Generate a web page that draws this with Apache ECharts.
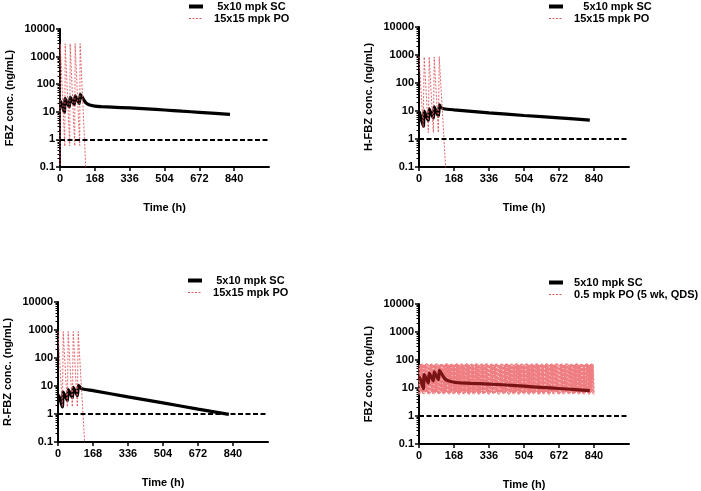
<!DOCTYPE html>
<html>
<head>
<meta charset="utf-8">
<script src="https://cdn.jsdelivr.net/npm/echarts@6/dist/echarts.min.js"></script>
<style>
html,body{margin:0;padding:0;background:#fff;}
#chart{width:701px;height:491px;}
</style>
</head>
<body>
<div id="chart"></div>
<script>
// ---------------- DATA ----------------
const xTickLabels = [0, 168, 336, 504, 672, 840];
const yTickLabels = [0.1, 1, 10, 100, 1000, 10000];
const loqLevel = 1;

const seriesNames = ['5x10 mpk SC', '15x15 mpk PO', '0.5 mpk PO (5 wk, QDS)'];
const yTitles = ['FBZ conc. (ng/mL)', 'H-FBZ conc. (ng/mL)', 'R-FBZ conc. (ng/mL)', 'FBZ conc. (ng/mL)'];
const xTitle = 'Time (h)';

// FBZ, 5x10 mpk SC
const scFbzTime = [0, 3, 21, 25, 45, 49, 69, 73, 93, 98, 105, 115, 125, 140, 168, 200, 250, 336, 420, 504, 588, 672, 750, 820];
const scFbzConc = [22, 24, 9.5, 30, 15, 34, 18, 38, 20, 43, 36, 27, 21, 18, 16, 15.3, 14.7, 13.8, 12.8, 11.6, 10.5, 9.6, 8.8, 8.1];
// H-FBZ, 5x10 mpk SC
const scHfbzTime = [0, 3, 21, 25, 45, 49, 69, 73, 93, 98, 105, 120, 168, 336, 504, 672, 820];
const scHfbzConc = [9.5, 8.5, 2.8, 10, 4.5, 12, 5.5, 14, 6.5, 16.5, 13.5, 12, 11, 8.6, 6.9, 5.7, 4.7];
// R-FBZ, 5x10 mpk SC
const scRfbzTime = [0, 3, 21, 25, 45, 49, 69, 73, 93, 98, 110, 120, 168, 336, 504, 672, 820];
const scRfbzConc = [4.2, 4.6, 1.8, 6, 3, 7.5, 3.8, 9, 4.5, 10.5, 8.3, 7.8, 6.8, 4.1, 2.5, 1.5, 0.97];

// 15x15 mpk PO
const poFbzTime = [0, 1, 23, 25, 47, 49, 71, 73, 95, 97, 126];
const poFbzConc = [0.12, 2900, 0.56, 2900, 0.58, 2950, 0.58, 2950, 0.6, 2950, 0.05];
const poHfbzTime = [0, 20, 25, 45, 49, 69, 73, 93, 97, 130];
const poHfbzConc = [900, 2.5, 850, 1.7, 850, 1.7, 850, 1.7, 880, 0.05];
const poRfbzTime = [0, 21, 25, 45, 49, 69, 73, 93, 97, 130];
const poRfbzConc = [900, 1.8, 880, 1.8, 880, 1.8, 880, 1.8, 880, 0.05];

// 0.5 mpk PO (5 wk, QDS) : [time h, conc ng/mL]
const poQds = [
[0,5.8],[1.5,66],[6,6.5],[7.5,72],[12,7.0],[13.5,75],[18,6.2],[19.5,69],
[24,6.0],[25.5,68],[30,6.7],[31.5,74],[36,7.2],[37.5,77],[42,6.3],[43.5,70],
[48,5.8],[49.5,66],[54,6.5],[55.5,72],[60,7.0],[61.5,75],[66,6.2],[67.5,69],
[72,6.0],[73.5,68],[78,6.7],[79.5,74],[84,7.2],[85.5,77],[90,6.3],[91.5,70],
[96,5.8],[97.5,66],[102,6.5],[103.5,72],[108,7.0],[109.5,75],[114,6.2],[115.5,69],
[120,6.0],[121.5,68],[126,6.7],[127.5,74],[132,7.2],[133.5,77],[138,6.3],[139.5,70],
[144,5.8],[145.5,66],[150,6.5],[151.5,72],[156,7.0],[157.5,75],[162,6.2],[163.5,69],
[168,6.0],[169.5,68],[174,6.7],[175.5,74],[180,7.2],[181.5,77],[186,6.3],[187.5,70],
[192,5.8],[193.5,66],[198,6.5],[199.5,72],[204,7.0],[205.5,75],[210,6.2],[211.5,69],
[216,6.0],[217.5,68],[222,6.7],[223.5,74],[228,7.2],[229.5,77],[234,6.3],[235.5,70],
[240,5.8],[241.5,66],[246,6.5],[247.5,72],[252,7.0],[253.5,75],[258,6.2],[259.5,69],
[264,6.0],[265.5,68],[270,6.7],[271.5,74],[276,7.2],[277.5,77],[282,6.3],[283.5,70],
[288,5.8],[289.5,66],[294,6.5],[295.5,72],[300,7.0],[301.5,75],[306,6.2],[307.5,69],
[312,6.0],[313.5,68],[318,6.7],[319.5,74],[324,7.2],[325.5,77],[330,6.3],[331.5,70],
[336,5.8],[337.5,66],[342,6.5],[343.5,72],[348,7.0],[349.5,75],[354,6.2],[355.5,69],
[360,6.0],[361.5,68],[366,6.7],[367.5,74],[372,7.2],[373.5,77],[378,6.3],[379.5,70],
[384,5.8],[385.5,66],[390,6.5],[391.5,72],[396,7.0],[397.5,75],[402,6.2],[403.5,69],
[408,6.0],[409.5,68],[414,6.7],[415.5,74],[420,7.2],[421.5,77],[426,6.3],[427.5,70],
[432,5.8],[433.5,66],[438,6.5],[439.5,72],[444,7.0],[445.5,75],[450,6.2],[451.5,69],
[456,6.0],[457.5,68],[462,6.7],[463.5,74],[468,7.2],[469.5,77],[474,6.3],[475.5,70],
[480,5.8],[481.5,66],[486,6.5],[487.5,72],[492,7.0],[493.5,75],[498,6.2],[499.5,69],
[504,6.0],[505.5,68],[510,6.7],[511.5,74],[516,7.2],[517.5,77],[522,6.3],[523.5,70],
[528,5.8],[529.5,66],[534,6.5],[535.5,72],[540,7.0],[541.5,75],[546,6.2],[547.5,69],
[552,6.0],[553.5,68],[558,6.7],[559.5,74],[564,7.2],[565.5,77],[570,6.3],[571.5,70],
[576,5.8],[577.5,66],[582,6.5],[583.5,72],[588,7.0],[589.5,75],[594,6.2],[595.5,69],
[600,6.0],[601.5,68],[606,6.7],[607.5,74],[612,7.2],[613.5,77],[618,6.3],[619.5,70],
[624,5.8],[625.5,66],[630,6.5],[631.5,72],[636,7.0],[637.5,75],[642,6.2],[643.5,69],
[648,6.0],[649.5,68],[654,6.7],[655.5,74],[660,7.2],[661.5,77],[666,6.3],[667.5,70],
[672,5.8],[673.5,66],[678,6.5],[679.5,72],[684,7.0],[685.5,75],[690,6.2],[691.5,69],
[696,6.0],[697.5,68],[702,6.7],[703.5,74],[708,7.2],[709.5,77],[714,6.3],[715.5,70],
[720,5.8],[721.5,66],[726,6.5],[727.5,72],[732,7.0],[733.5,75],[738,6.2],[739.5,69],
[744,6.0],[745.5,68],[750,6.7],[751.5,74],[756,7.2],[757.5,77],[762,6.3],[763.5,70],
[768,5.8],[769.5,66],[774,6.5],[775.5,72],[780,7.0],[781.5,75],[786,6.2],[787.5,69],
[792,6.0],[793.5,68],[798,6.7],[799.5,74],[804,7.2],[805.5,77],[810,6.3],[811.5,70],
[816,5.8],[817.5,66],[822,6.5],[823.5,72],[828,7.0],[829.5,75],[834,6.2],[835.5,69],
[840,5.8]
];

// ---------------- CHART ----------------
const FONT = '"Liberation Sans", Arial, Helvetica, sans-serif';
const zip = (t, c) => t.map((v, i) => [v, c[i]]);
const PO_RED = '#e0555a';
const QDS_RED = '#ee7e82';

const grids = [
  {left: 60, top: 29, width: 209, height: 138},
  {left: 419, top: 27, width: 210, height: 140},
  {left: 58, top: 302, width: 210, height: 140},
  {left: 419, top: 304, width: 210, height: 140}
];

const textBase = {color: '#000', fontFamily: FONT, fontWeight: 'bold', fontSize: 11};

function yLabel(v) {
  return v < 1 ? v.toFixed(1) : String(Math.round(v));
}

const xAxes = grids.map((g, i) => ({
  gridIndex: i, type: 'value', min: 0, max: 1008, interval: 168,
  name: xTitle, nameLocation: 'middle', nameGap: 35,
  nameTextStyle: Object.assign({}, textBase),
  axisLine: {show: true, onZero: false, lineStyle: {color: '#000', width: 2}},
  axisTick: {show: true, length: 4, customValues: xTickLabels, lineStyle: {color: '#000', width: 1.5}},
  axisLabel: Object.assign({margin: 6, customValues: xTickLabels}, textBase),
  splitLine: {show: false}
}));

const yAxes = grids.map((g, i) => ({
  gridIndex: i, type: 'log', logBase: 10, min: yTickLabels[0], max: yTickLabels[yTickLabels.length - 1],
  name: yTitles[i], nameLocation: 'middle', nameGap: 45,
  nameTextStyle: Object.assign({}, textBase),
  axisLine: {show: true, onZero: false, lineStyle: {color: '#000', width: 2}},
  axisTick: {show: true, length: 4, lineStyle: {color: '#000', width: 1.5}},
  minorTick: {show: true, splitNumber: 9, length: 2.5, lineStyle: {color: '#000', width: 1}},
  axisLabel: Object.assign({margin: 5, formatter: yLabel}, textBase),
  splitLine: {show: false}
}));

const hiddenSymbol = {color: 'rgba(0,0,0,0)', borderWidth: 0, opacity: 0};

function legendFor(left, top, names, pads, poColor) {
  return {
    left: left, top: top, orient: 'vertical', padding: 0,
    itemWidth: 14, itemHeight: 10, itemGap: 1, selectedMode: false,
    itemStyle: hiddenSymbol,
    data: [
      {name: names[0], lineStyle: {width: 4, color: '#000', type: 'solid'}, itemStyle: hiddenSymbol},
      {name: names[1], lineStyle: {width: 1, color: poColor, type: [2, 1.5]}, itemStyle: hiddenSymbol}
    ],
    formatter: function (n) { return pads[names.indexOf(n)] + n; },
    textStyle: Object.assign({}, textBase)
  };
}

const legends = [
  legendFor(187, 1, [seriesNames[0], seriesNames[1]], ['   ', '  '], PO_RED),
  legendFor(547, 1, [seriesNames[0], seriesNames[1]], ['     ', '  '], PO_RED),
  legendFor(186, 275, [seriesNames[0], seriesNames[1]], ['   ', '  '], PO_RED),
  legendFor(547, 277, [seriesNames[0], seriesNames[2]], ['  ', '  '], PO_RED)
];

function scSeries(i, data, color) {
  return {
    type: 'line', name: seriesNames[0], xAxisIndex: i, yAxisIndex: i,
    data: data, showSymbol: false, symbol: 'none', z: 3, smooth: 0.2,
    color: '#000',
    lineStyle: {color: color || '#000', width: 3.2},
    markLine: {
      silent: true, symbol: ['none', 'none'], label: {show: false},
      lineStyle: {color: '#000', type: [5, 2.5], width: 2},
      data: [{yAxis: loqLevel}]
    }
  };
}
function poSeries(i, name, data, z, width, dash, color) {
  return {
    type: 'line', name: name, xAxisIndex: i, yAxisIndex: i,
    data: data, showSymbol: false, symbol: 'none', z: z,
    color: color || PO_RED,
    lineStyle: {color: color || PO_RED, width: width || 0.9, type: dash || [2, 1.5]}
  };
}

const series = [
  scSeries(0, zip(scFbzTime, scFbzConc)),
  poSeries(0, seriesNames[1], zip(poFbzTime, poFbzConc), 4),
  scSeries(1, zip(scHfbzTime, scHfbzConc)),
  poSeries(1, seriesNames[1], zip(poHfbzTime, poHfbzConc), 4),
  scSeries(2, zip(scRfbzTime, scRfbzConc)),
  poSeries(2, seriesNames[1], zip(poRfbzTime, poRfbzConc), 4),
  poSeries(3, seriesNames[2], poQds, 2, 1.4, [3, 1], QDS_RED),
  scSeries(3, zip(scFbzTime, scFbzConc), '#7a1414')
];

const chart = echarts.init(document.getElementById('chart'), null, {renderer: 'canvas'});
chart.setOption({
  animation: false,
  backgroundColor: '#fff',
  textStyle: {fontFamily: FONT},
  grid: grids,
  xAxis: xAxes,
  yAxis: yAxes,
  legend: legends,
  series: series
});
</script>
</body>
</html>
